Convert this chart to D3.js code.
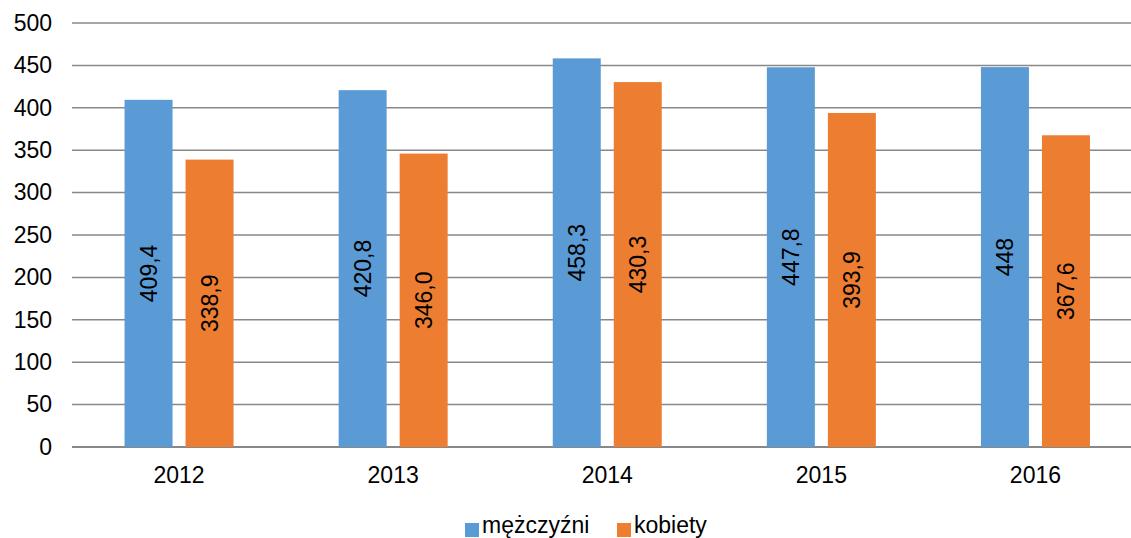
<!DOCTYPE html>
<html><head><meta charset="utf-8">
<script src="https://cdn.jsdelivr.net/npm/d3@7"></script>
<style>body{margin:0;background:#fff}svg{display:block;font-family:"Liberation Sans",Arial,sans-serif}</style>
</head><body><svg id="c" width="1131" height="538"></svg>
<script>
const categories = ["2012","2013","2014","2015","2016"];
const seriesNames = ["mężczyźni","kobiety"];
const men = [409.4, 420.8, 458.3, 447.8, 448];
const women = [338.9, 346.0, 430.3, 393.9, 367.6];
const menLabels = ["409,4","420,8","458,3","447,8","448"];
const womenLabels = ["338,9","346,0","430,3","393,9","367,6"];
const yTicks = [0,50,100,150,200,250,300,350,400,450,500];
const colors = ["#5B9BD5","#ED7D31"];

(function(){
const svg = d3.select("#c");
const FS = 23;
const pLeft = 72, pTop = 23, pBottom = 447, pRight = 1142.5;
const y = d3.scaleLinear().domain([0,500]).range([pBottom, pTop]);
const x = d3.scaleBand().domain(categories).range([pLeft, pRight]).padding(0);
const groupW = 109;
const x1 = d3.scaleBand().domain(seriesNames).range([0, groupW]).paddingInner(13/61).paddingOuter(0);

// gridlines
svg.append("g").selectAll("line").data(yTicks).join("line")
  .attr("x1", pLeft).attr("x2", 1131)
  .attr("y1", d => y(d)).attr("y2", d => y(d))
  .attr("stroke", "#888888").attr("stroke-width", d => d === 0 ? 2 : 1.5);

// y axis labels
const yAxis = d3.axisLeft(y).tickValues(yTicks).tickSize(0).tickPadding(0);
const gy = svg.append("g").attr("transform", `translate(${pLeft-20},0)`).call(yAxis);
gy.select(".domain").remove();
gy.selectAll("text").attr("font-size", FS).attr("fill", "#000").attr("font-family", "Liberation Sans, Arial, sans-serif");

// x axis labels
const xAxis = d3.axisBottom(x).tickSize(0).tickPadding(0);
const gx = svg.append("g").attr("transform", `translate(0,483)`).call(xAxis);
gx.select(".domain").remove();
gx.selectAll("text").attr("font-size", FS).attr("fill", "#000").attr("font-family", "Liberation Sans, Arial, sans-serif").attr("y", 0).attr("dy", 0);

const data = categories.map((c,i) => ({cat:c, vals:[
  {s:seriesNames[0], v:men[i], l:menLabels[i], c:colors[0]},
  {s:seriesNames[1], v:women[i], l:womenLabels[i], c:colors[1]}
]}));

const groups = svg.append("g").selectAll("g").data(data).join("g")
  .attr("transform", d => `translate(${x(d.cat) + (x.bandwidth()-groupW)/2},0)`);
groups.selectAll("rect").data(d => d.vals).join("rect")
  .attr("x", d => x1(d.s)).attr("width", x1.bandwidth())
  .attr("y", d => y(d.v)).attr("height", d => pBottom - y(d.v))
  .attr("fill", d => d.c);
groups.selectAll("text").data(d => d.vals).join("text")
  .attr("transform", d => `translate(${x1(d.s)+x1.bandwidth()/2},${(y(d.v)+pBottom)/2}) rotate(-90)`)
  .attr("text-anchor", "middle").attr("dy", "0.35em")
  .attr("font-size", FS).attr("fill", "#000")
  .text(d => d.l);

// legend
const legendItems = [{n:seriesNames[0], c:colors[0], x:465},{n:seriesNames[1], c:colors[1], x:617}];
const lg = svg.append("g").selectAll("g").data(legendItems).join("g")
  .attr("transform", d => `translate(${d.x},0)`);
lg.append("rect").attr("x",0).attr("y",523).attr("width",14).attr("height",14).attr("fill", d => d.c);
lg.append("text").attr("x",17).attr("y",533).attr("font-size",FS).attr("fill","#000").text(d => d.n);
})();
</script></body></html>
